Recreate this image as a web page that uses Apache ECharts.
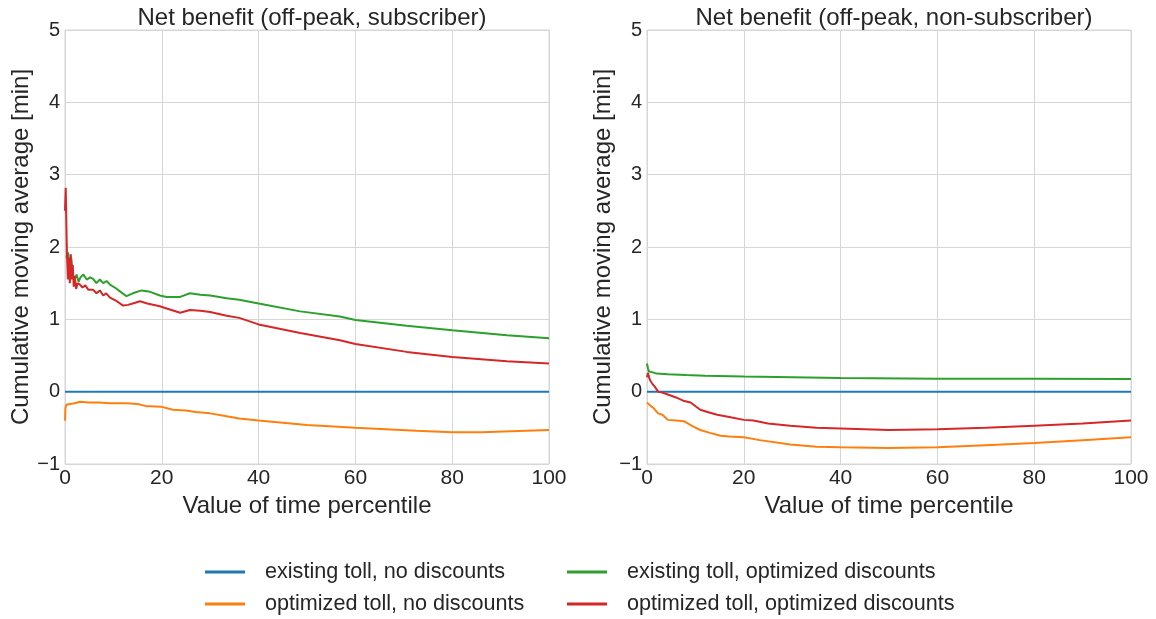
<!DOCTYPE html>
<html>
<head>
<meta charset="utf-8">
<script src="https://cdn.jsdelivr.net/npm/echarts@6/dist/echarts.min.js"></script>
<style>html,body{margin:0;padding:0;background:#fff}#c{width:1156px;height:619px}</style>
</head>
<body>
<div id="c"></div>
<script>
// ---- data ----
const titles = ['Net benefit (off-peak, subscriber)', 'Net benefit (off-peak, non-subscriber)'];
const seriesNames = ['existing toll, no discounts', 'optimized toll, no discounts', 'existing toll, optimized discounts', 'optimized toll, optimized discounts'];
const xTicks = [0, 20, 40, 60, 80, 100];
const yTicks = [-1, 0, 1, 2, 3, 4, 5];

// left panel (subscriber)
const L_blue_x = [0, 100];
const L_blue_y = [0, 0];
const L_orange_x = [0, 0.1, 0.3, 0.6, 1.0, 2.0, 3.1, 5, 7, 9.3, 12.7, 15, 16.8, 17.6, 20, 22.3, 25, 27, 30, 33.4, 36, 40, 45, 50, 60, 72.6, 80, 86, 100];
const L_orange_y = [-0.4, -0.22, -0.18, -0.2, -0.17, -0.16, -0.14, -0.15, -0.15, -0.16, -0.16, -0.17, -0.20, -0.20, -0.21, -0.25, -0.26, -0.28, -0.30, -0.34, -0.37, -0.40, -0.43, -0.46, -0.50, -0.54, -0.56, -0.56, -0.53];
const L_green_x = [0.3, 0.5, 0.7, 1.0, 1.3, 1.6, 2.0, 2.4, 2.8, 3.2, 3.8, 4.5, 5.2, 5.8, 6.5, 7.2, 7.9, 8.6, 9.3, 10.5, 11.5, 12.7, 14, 15.8, 17.6, 19.6, 21, 23.8, 25.8, 28, 30, 33.4, 36, 40, 48.6, 56.8, 60, 70.6, 80, 91.3, 100];
const L_green_y = [1.85, 1.93, 1.9, 1.7, 1.85, 1.6, 1.55, 1.62, 1.52, 1.58, 1.62, 1.55, 1.58, 1.56, 1.5, 1.55, 1.50, 1.53, 1.48, 1.43, 1.38, 1.32, 1.36, 1.40, 1.38, 1.33, 1.31, 1.31, 1.36, 1.34, 1.33, 1.29, 1.27, 1.22, 1.11, 1.04, 0.99, 0.91, 0.85, 0.78, 0.74];
const L_red_x = [0, 0.15, 0.4, 0.6, 0.8, 1.0, 1.2, 1.4, 1.6, 1.8, 2.0, 2.3, 2.6, 3.1, 3.6, 4.2, 4.8, 5.8, 6.5, 7.2, 7.9, 8.5, 9.3, 10.5, 12, 13, 14, 15.5, 17, 19.6, 21, 23.8, 25.8, 28, 30, 33.4, 36, 40, 48.6, 56.8, 60, 70.6, 80, 91.3, 100];
const L_red_y = [2.5, 2.82, 1.9, 1.55, 1.85, 1.5, 1.9, 1.55, 1.75, 1.45, 1.6, 1.42, 1.5, 1.48, 1.44, 1.47, 1.41, 1.41, 1.36, 1.4, 1.33, 1.36, 1.30, 1.26, 1.19, 1.2, 1.22, 1.25, 1.22, 1.18, 1.15, 1.09, 1.13, 1.12, 1.10, 1.05, 1.02, 0.93, 0.81, 0.71, 0.66, 0.55, 0.48, 0.42, 0.39];

// right panel (non-subscriber)
const R_blue_x = [0, 100];
const R_blue_y = [0, 0];
const R_orange_x = [0, 0.2, 0.8, 1.4, 2.3, 3.2, 4.3, 6, 7.7, 9.5, 11, 13, 15.2, 17, 20, 23.3, 29.6, 35, 40, 50, 60, 70, 80, 90, 100];
const R_orange_y = [-0.15, -0.14, -0.2, -0.23, -0.30, -0.32, -0.39, -0.40, -0.41, -0.48, -0.53, -0.57, -0.61, -0.62, -0.63, -0.67, -0.73, -0.76, -0.77, -0.78, -0.77, -0.74, -0.71, -0.67, -0.63];
const R_green_x = [0, 0.2, 0.4, 1, 2, 4.3, 8, 12, 20, 30, 40, 60, 80, 100];
const R_green_y = [0.39, 0.32, 0.28, 0.27, 0.25, 0.24, 0.23, 0.22, 0.21, 0.20, 0.19, 0.18, 0.177, 0.175];
const R_red_x = [0, 0.2, 0.5, 0.8, 1.2, 1.6, 2.3, 3, 4.3, 6, 7.7, 9, 11, 12.5, 14.5, 17, 20, 22, 25, 29.6, 35, 40, 50, 60, 70, 80, 90, 100];
const R_red_y = [0.2, 0.26, 0.18, 0.14, 0.1, 0.07, 0.0, -0.01, -0.04, -0.08, -0.13, -0.15, -0.25, -0.28, -0.32, -0.35, -0.39, -0.40, -0.44, -0.47, -0.50, -0.51, -0.53, -0.52, -0.50, -0.47, -0.44, -0.40];

const colors = ['#1f77b4', '#ff7f0e', '#2ca02c', '#d62728'];

// ---- build ----
const zip = (xs, ys) => xs.map((x, i) => [x, ys[i]]);
const panels = [
  [zip(L_blue_x, L_blue_y), zip(L_orange_x, L_orange_y), zip(L_green_x, L_green_y), zip(L_red_x, L_red_y)],
  [zip(R_blue_x, R_blue_y), zip(R_orange_x, R_orange_y), zip(R_green_x, R_green_y), zip(R_red_x, R_red_y)]
];
const fontFam = 'Arial, "Liberation Sans", sans-serif';
const textCol = '#262626';
const fmtY = v => (v < 0 ? '\u2212' + Math.abs(v) : String(v));

const grids = [
  {left: 65, right: 607, top: 30, bottom: 155, show: true, borderColor: '#d6d6d6', borderWidth: 1},
  {left: 647, right: 25, top: 30, bottom: 155, show: true, borderColor: '#d6d6d6', borderWidth: 1}
];
const xAxes = [0, 1].map(i => ({
  type: 'value', gridIndex: i, min: xTicks[0], max: xTicks[xTicks.length - 1], interval: 20,
  name: 'Value of time percentile', nameLocation: 'middle', nameGap: 29,
  nameTextStyle: {fontSize: 24, color: textCol, fontFamily: fontFam},
  axisLine: {show: false}, axisTick: {show: false},
  axisLabel: {fontSize: 21, color: textCol, fontFamily: fontFam, margin: 4},
  splitLine: {show: true, lineStyle: {color: '#d6d6d6', width: 1}}
}));
const yAxes = [0, 1].map(i => ({
  type: 'value', gridIndex: i, min: yTicks[0], max: yTicks[yTicks.length - 1], interval: 1,
  name: 'Cumulative moving average [min]', nameLocation: 'middle', nameGap: 30,
  nameTextStyle: {fontSize: 24, color: textCol, fontFamily: fontFam},
  axisLine: {show: false}, axisTick: {show: false},
  axisLabel: {fontSize: 20, color: textCol, fontFamily: fontFam, margin: 5, formatter: fmtY},
  splitLine: {show: true, lineStyle: {color: '#d6d6d6', width: 1}}
}));
const series = [];
panels.forEach((p, pi) => {
  p.forEach((d, si) => {
    series.push({
      type: 'line', name: seriesNames[si], xAxisIndex: pi, yAxisIndex: pi,
      data: d, symbol: 'none', smooth: false, animation: false,
      lineStyle: {color: colors[si], width: 2}, itemStyle: {color: colors[si]},
      z: si === 0 ? 1 : 2 + si
    });
  });
});
const legendBase = {
  orient: 'vertical', top: 560, padding: 0, itemWidth: 40, itemHeight: 3, icon: 'rect', itemGap: 8,
  textStyle: {fontSize: 21.6, color: textCol, fontFamily: fontFam, lineHeight: 24, padding: [0, 0, 0, 15]}
};
const option = {
  backgroundColor: '#fff',
  color: colors,
  title: [
    {text: titles[0], left: 307, top: 1, textAlign: 'center', textStyle: {fontSize: 24, fontWeight: 'normal', color: textCol, fontFamily: fontFam}},
    {text: titles[1], left: 889, top: 1, textAlign: 'center', textStyle: {fontSize: 24, fontWeight: 'normal', color: textCol, fontFamily: fontFam}}
  ],
  grid: grids, xAxis: xAxes, yAxis: yAxes,
  legend: [
    Object.assign({}, legendBase, {left: 205, data: [seriesNames[0], seriesNames[1]]}),
    Object.assign({}, legendBase, {left: 567, data: [seriesNames[2], seriesNames[3]]})
  ],
  series: series
};
const chart = echarts.init(document.getElementById('c'), null, {renderer: 'canvas'});
chart.setOption(option);
</script>
</body>
</html>
